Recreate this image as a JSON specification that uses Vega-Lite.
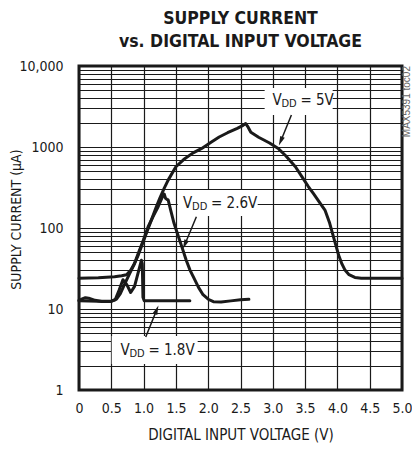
{
  "$schema": "https://vega.github.io/schema/vega-lite/v6.json",
  "width": 323,
  "height": 324,
  "autosize": {"type": "none"},
  "padding": {"left": 79, "top": 66, "right": 10, "bottom": 62},
  "background": "white",
  "title": {
    "text": ["SUPPLY CURRENT", "vs. DIGITAL INPUT VOLTAGE"],
    "font": "DejaVu Sans Condensed, Liberation Sans",
    "fontSize": 17.5,
    "fontWeight": "bold",
    "color": "#1a1a1a",
    "anchor": "middle",
    "offset": 9,
    "lineHeight": 23
  },
  "config": {
    "font": "DejaVu Sans Condensed, Liberation Sans",
    "view": {"stroke": "#1a1a1a", "strokeWidth": 3},
    "axis": {
      "labelFont": "DejaVu Sans Condensed, Liberation Sans",
      "titleFont": "DejaVu Sans Condensed, Liberation Sans",
      "labelFontSize": 14,
      "titleFontSize": 15,
      "titleFontWeight": "normal",
      "labelColor": "#1a1a1a",
      "titleColor": "#1a1a1a",
      "gridColor": "#1a1a1a",
      "gridWidth": 1.2,
      "gridOpacity": 1,
      "domain": false,
      "ticks": false
    }
  },
  "datasets": {
    "curves": [
      {"s": "5V", "v": 0, "i": 24},
      {"s": "5V", "v": 0.3, "i": 24.3},
      {"s": "5V", "v": 0.55, "i": 25},
      {"s": "5V", "v": 0.66, "i": 25.8},
      {"s": "5V", "v": 0.735, "i": 26.5},
      {"s": "5V", "v": 0.8, "i": 30},
      {"s": "5V", "v": 0.864, "i": 37},
      {"s": "5V", "v": 0.92, "i": 47},
      {"s": "5V", "v": 0.967, "i": 59},
      {"s": "5V", "v": 1.04, "i": 85},
      {"s": "5V", "v": 1.12, "i": 125},
      {"s": "5V", "v": 1.2, "i": 185},
      {"s": "5V", "v": 1.25, "i": 232},
      {"s": "5V", "v": 1.32, "i": 310},
      {"s": "5V", "v": 1.38, "i": 390},
      {"s": "5V", "v": 1.5, "i": 570},
      {"s": "5V", "v": 1.62, "i": 700},
      {"s": "5V", "v": 1.76, "i": 840},
      {"s": "5V", "v": 1.9, "i": 960},
      {"s": "5V", "v": 2.05, "i": 1150},
      {"s": "5V", "v": 2.17, "i": 1330},
      {"s": "5V", "v": 2.3, "i": 1500},
      {"s": "5V", "v": 2.45, "i": 1700},
      {"s": "5V", "v": 2.54, "i": 1850},
      {"s": "5V", "v": 2.58, "i": 1950},
      {"s": "5V", "v": 2.61, "i": 1800},
      {"s": "5V", "v": 2.66, "i": 1520},
      {"s": "5V", "v": 2.78, "i": 1320},
      {"s": "5V", "v": 2.95, "i": 1120},
      {"s": "5V", "v": 3.09, "i": 950},
      {"s": "5V", "v": 3.2, "i": 780},
      {"s": "5V", "v": 3.35, "i": 570},
      {"s": "5V", "v": 3.45, "i": 430},
      {"s": "5V", "v": 3.55, "i": 325},
      {"s": "5V", "v": 3.63, "i": 265},
      {"s": "5V", "v": 3.71, "i": 215},
      {"s": "5V", "v": 3.81, "i": 165},
      {"s": "5V", "v": 3.88, "i": 115},
      {"s": "5V", "v": 3.96, "i": 68},
      {"s": "5V", "v": 4.02, "i": 46},
      {"s": "5V", "v": 4.07, "i": 36},
      {"s": "5V", "v": 4.12, "i": 30},
      {"s": "5V", "v": 4.18, "i": 26.5},
      {"s": "5V", "v": 4.27, "i": 24.5},
      {"s": "5V", "v": 4.37, "i": 24},
      {"s": "5V", "v": 5.0, "i": 24},
      {"s": "2.6V", "v": 0, "i": 12.8},
      {"s": "2.6V", "v": 0.05, "i": 13.3},
      {"s": "2.6V", "v": 0.1, "i": 13.8},
      {"s": "2.6V", "v": 0.15, "i": 13.6},
      {"s": "2.6V", "v": 0.25, "i": 12.8},
      {"s": "2.6V", "v": 0.35, "i": 12.4},
      {"s": "2.6V", "v": 0.5, "i": 12.4},
      {"s": "2.6V", "v": 0.58, "i": 13.2},
      {"s": "2.6V", "v": 0.64, "i": 15.5},
      {"s": "2.6V", "v": 0.71, "i": 20.5},
      {"s": "2.6V", "v": 0.78, "i": 27},
      {"s": "2.6V", "v": 0.85, "i": 35},
      {"s": "2.6V", "v": 0.915, "i": 48},
      {"s": "2.6V", "v": 1.0, "i": 72},
      {"s": "2.6V", "v": 1.07, "i": 104},
      {"s": "2.6V", "v": 1.15, "i": 140},
      {"s": "2.6V", "v": 1.225, "i": 183},
      {"s": "2.6V", "v": 1.3, "i": 250},
      {"s": "2.6V", "v": 1.32, "i": 262},
      {"s": "2.6V", "v": 1.34, "i": 232},
      {"s": "2.6V", "v": 1.36, "i": 226},
      {"s": "2.6V", "v": 1.38, "i": 222},
      {"s": "2.6V", "v": 1.42, "i": 165},
      {"s": "2.6V", "v": 1.47, "i": 115},
      {"s": "2.6V", "v": 1.54, "i": 78},
      {"s": "2.6V", "v": 1.6, "i": 56},
      {"s": "2.6V", "v": 1.66, "i": 40},
      {"s": "2.6V", "v": 1.72, "i": 30},
      {"s": "2.6V", "v": 1.78, "i": 24},
      {"s": "2.6V", "v": 1.85, "i": 18.5},
      {"s": "2.6V", "v": 1.92, "i": 15},
      {"s": "2.6V", "v": 2.0, "i": 13.2},
      {"s": "2.6V", "v": 2.08, "i": 12.3},
      {"s": "2.6V", "v": 2.2, "i": 12.2},
      {"s": "2.6V", "v": 2.35, "i": 12.6},
      {"s": "2.6V", "v": 2.5, "i": 13},
      {"s": "2.6V", "v": 2.63, "i": 13.2},
      {"s": "1.8V", "v": 0, "i": 12.6},
      {"s": "1.8V", "v": 0.3, "i": 12.5},
      {"s": "1.8V", "v": 0.5, "i": 12.5},
      {"s": "1.8V", "v": 0.56, "i": 13},
      {"s": "1.8V", "v": 0.62, "i": 17},
      {"s": "1.8V", "v": 0.68, "i": 23},
      {"s": "1.8V", "v": 0.74, "i": 20},
      {"s": "1.8V", "v": 0.8, "i": 16},
      {"s": "1.8V", "v": 0.86, "i": 19},
      {"s": "1.8V", "v": 0.92, "i": 29},
      {"s": "1.8V", "v": 0.967, "i": 40},
      {"s": "1.8V", "v": 0.98, "i": 36},
      {"s": "1.8V", "v": 0.99, "i": 14},
      {"s": "1.8V", "v": 1.01, "i": 12.6},
      {"s": "1.8V", "v": 1.4, "i": 12.6},
      {"s": "1.8V", "v": 1.716, "i": 12.6}
    ],
    "boxes": [
      {"s": "5V", "v": 2.874, "v2": 3.927, "i": 5350, "i2": 2483},
      {"s": "2.6V", "v": 1.528, "v2": 2.766, "i": 295, "i2": 141},
      {"s": "1.8V", "v": 0.506, "v2": 1.837, "i": 4.64, "i2": 2.09}
    ],
    "arrows": [
      {"s": "5V", "v": 3.288, "i": 2483, "v2": 3.127, "i2": 1206},
      {"s": "2.6V", "v": 1.817, "i": 138, "v2": 1.643, "i2": 64},
      {"s": "1.8V", "v": 1.033, "i": 4.51, "v2": 1.198, "i2": 9.55}
    ],
    "heads": [
      {"s": "5V", "v": 3.127, "i": 1206},
      {"s": "2.6V", "v": 1.643, "i": 64},
      {"s": "1.8V", "v": 1.198, "i": 9.55}
    ],
    "labels": [
      {"s": "5V", "v": 2.994, "i": 3802, "t": "= 5V"},
      {"s": "2.6V", "v": 1.61, "i": 201.8, "t": "= 2.6V"},
      {"s": "1.8V", "v": 0.641, "i": 3.12, "t": "= 1.8V"}
    ],
    "note": [
      {"v": 5.085, "i": 10000, "t": "MAX5391 toc02"}
    ]
  },
  "encoding": {
    "x": {
      "field": "v", "type": "quantitative",
      "scale": {"domain": [0, 5], "nice": false, "zero": false},
      "axis": {
        "title": "DIGITAL INPUT VOLTAGE (V)",
        "values": [0, 0.5, 1, 1.5, 2, 2.5, 3, 3.5, 4, 4.5, 5],
        "labelExpr": "datum.value == 0 ? '0' : format(datum.value, '.1f')",
        "labelFlush": false,
        "labelOverlap": false,
        "labelSeparation": 0,
        "labelBound": false,
        "labelPadding": 11,
        "titlePadding": 12,
        "grid": true
      }
    },
    "y": {
      "field": "i", "type": "quantitative",
      "scale": {"type": "log", "domain": [1, 10000], "nice": false},
      "axis": {
        "title": "SUPPLY CURRENT (μA)",
        "titleFontSize": 14,
        "titleY": 153,
        "values": [1, 2, 3, 4, 5, 6, 7, 8, 9, 10, 20, 30, 40, 50, 60, 70, 80, 90, 100, 200, 300, 400, 500, 600, 700, 800, 900, 1000, 2000, 3000, 4000, 5000, 6000, 7000, 8000, 9000, 10000],
        "format": "d",
        "labelExpr": "datum.value == 10000 ? '10,000' : ((datum.value == 1 || datum.value == 10 || datum.value == 100 || datum.value == 1000) ? datum.label : '')",
        "labelOverlap": false,
        "labelPadding": 16,
        "titlePadding": -5,
        "grid": true
      }
    }
  },
  "layer": [
    {
      "data": {"name": "boxes"},
      "mark": {"type": "rect", "fill": "white", "stroke": null},
      "encoding": {
        "x2": {"field": "v2"},
        "y2": {"field": "i2"}
      }
    },
    {
      "data": {"name": "curves"},
      "mark": {"type": "line", "stroke": "#1a1a1a", "strokeWidth": 3, "strokeJoin": "round", "strokeCap": "round"},
      "encoding": {
        "detail": {"field": "s"}
      }
    },
    {
      "data": {"name": "arrows"},
      "mark": {"type": "rule", "stroke": "#1a1a1a", "strokeWidth": 1.5},
      "encoding": {
        "x2": {"field": "v2"},
        "y2": {"field": "i2"}
      }
    },
    {
      "data": {"name": "heads"},
      "transform": [{"filter": "datum.s != '1.8V'"}],
      "mark": {"type": "point", "shape": "M0,-1L0.45,0.7L-0.45,0.7Z", "filled": true, "fill": "#1a1a1a", "stroke": null, "opacity": 1, "size": 120, "angle": 203},
      "encoding": {}
    },
    {
      "data": {"name": "heads"},
      "transform": [{"filter": "datum.s == '1.8V'"}],
      "mark": {"type": "point", "shape": "M0,-1L0.45,0.7L-0.45,0.7Z", "filled": true, "fill": "#1a1a1a", "stroke": null, "opacity": 1, "size": 120, "angle": 22},
      "encoding": {}
    },
    {
      "data": {"name": "labels"},
      "mark": {"type": "text", "align": "left", "baseline": "middle", "fontSize": 15, "color": "#1a1a1a", "dx": 0},
      "encoding": {
        "text": {"value": "V"}
      }
    },
    {
      "data": {"name": "labels"},
      "mark": {"type": "text", "align": "left", "baseline": "middle", "fontSize": 11, "color": "#1a1a1a", "dx": 9, "dy": 4},
      "encoding": {
        "text": {"value": "DD"}
      }
    },
    {
      "data": {"name": "labels"},
      "mark": {"type": "text", "align": "left", "baseline": "middle", "fontSize": 15, "color": "#1a1a1a", "dx": 28},
      "encoding": {
        "text": {"field": "t"}
      }
    },
    {
      "data": {"name": "note"},
      "mark": {"type": "text", "align": "right", "baseline": "middle", "angle": 270, "fontSize": 10, "font": "Liberation Sans", "color": "#666666"},
      "encoding": {
        "text": {"field": "t"}
      }
    }
  ]
}
